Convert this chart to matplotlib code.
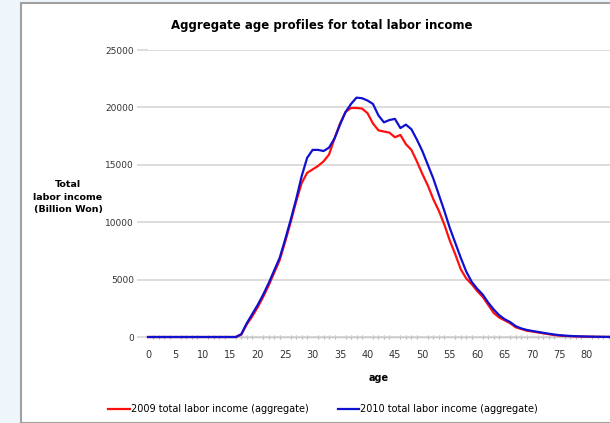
import matplotlib.pyplot as plt
from matplotlib.patches import Rectangle
import numpy as np

ages = list(range(0, 85))

income_2009 = [0] * 17 + [
    200, 1100, 1800, 2600, 3500, 4500, 5600, 6700, 8300, 10000,      # 17-26
    11800, 13400, 14300, 14600, 14900, 15300, 15900, 17300, 18600,   # 27-35
    19600, 19950, 19950, 19900, 19500, 18600, 18000, 17900, 17800,   # 36-44
    17400, 17600, 16800, 16300, 15300, 14200, 13200, 12000, 11000,   # 45-53
    9800, 8400, 7200, 5900, 5100, 4600, 4000, 3500, 2800, 2100,      # 54-63
    1700, 1450, 1200, 850, 700, 550, 480, 400, 320, 250, 170,        # 64-74
    120, 90, 70, 50, 40, 30, 20, 15, 10, 5]                          # 75-84

income_2010 = [0] * 17 + [
    250, 1200, 2000, 2800, 3700, 4700, 5800, 6900, 8500, 10200,      # 17-26
    12000, 14000, 15600, 16300, 16300, 16200, 16500, 17300, 18500,   # 27-35
    19600, 20300, 20850, 20800, 20600, 20300, 19300, 18700, 18900,   # 36-44
    19000, 18200, 18500, 18100, 17200, 16200, 15000, 13800, 12400,   # 45-53
    11000, 9500, 8200, 6900, 5700, 4800, 4200, 3700, 3000, 2400,     # 54-63
    1900, 1550, 1300, 950, 750, 620, 530, 450, 370, 290, 220,        # 64-74
    160, 120, 90, 70, 50, 40, 30, 20, 15, 10]                        # 75-84

x_ticks = list(range(0, 85, 5))
y_ticks = [0, 5000, 10000, 15000, 20000, 25000]

plt.rcParams['font.family'] = ['DejaVu Sans']

W, H = 610, 423
fig = plt.figure(figsize=(W / 100, H / 100), dpi=100)
fig.patch.set_facecolor('#eef5fb')

# white chart panel with gray border
fig.patches.append(Rectangle((21 / W, 0), 1, 1 - 3 / H, transform=fig.transFigure,
                             facecolor='white', edgecolor='#a0a0a0', lw=1.5, zorder=-10))

ax = fig.add_axes([148 / W, (H - 337) / H, (W - 148) / W, (337 - 50) / H])
ax.set_facecolor('none')

ax.plot(ages, income_2009, color='#ff1010', lw=1.6, clip_on=False, zorder=3,
        label='2009 total labor income (aggregate)')
ax.plot(ages, income_2010, color='#1010d0', lw=1.6, clip_on=False, zorder=4,
        label='2010 total labor income (aggregate)')

ax.set_xlim(0, 84.2)
ax.set_ylim(0, 25000)
ax.set_xticks(x_ticks)
ax.set_xticks(range(0, 85), minor=True)
ax.set_yticks(y_ticks)

for s in ['top', 'right', 'left']:
    ax.spines[s].set_visible(False)
ax.spines['bottom'].set_color('#c8c8c8')
ax.spines['bottom'].set_linewidth(1)

ax.yaxis.grid(True, color='#d3d3d3', lw=1.1)
ax.set_axisbelow(True)
ax.tick_params(axis='y', length=8, color='#d3d3d3', width=1.1, pad=2,
               labelsize=6.5, labelcolor='#333333')
ax.tick_params(axis='x', which='major', length=0, pad=9,
               labelsize=7, labelcolor='#333333')
ax.tick_params(axis='x', which='minor', length=2.5, direction='inout',
               color='#b0b0b0', width=0.8)

ax.set_xlabel('age', fontsize=7, fontweight='bold', labelpad=10)

fig.text(68 / W, 1 - 197 / H, 'Total\nlabor income\n(Billion Won)', ha='center',
         va='center', fontsize=6.8, fontweight='bold', linespacing=1.55)
fig.text(322 / W, 1 - 25 / H, 'Aggregate age profiles for total labor income',
         ha='center', va='center', fontsize=8.5, fontweight='bold')

fig.legend(loc='center', bbox_to_anchor=(323 / W, 1 - 409 / H), ncol=2,
           frameon=False, fontsize=7, handlelength=2.2, handletextpad=0.1,
           columnspacing=3.0)

fig.savefig('out.png', dpi=100, facecolor=fig.get_facecolor())
